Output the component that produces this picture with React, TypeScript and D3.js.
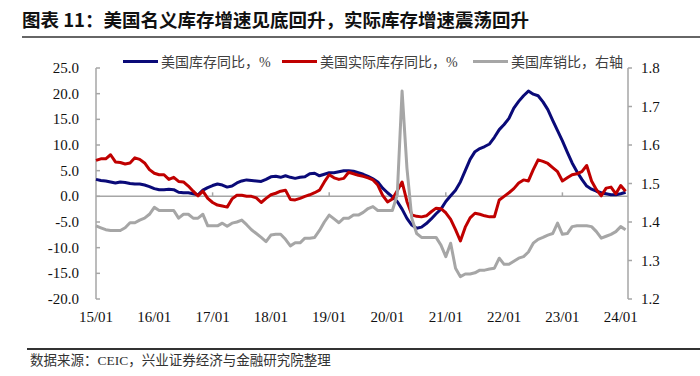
import React from "react";
import * as d3 from "d3";

const title = "图表 11：美国名义库存增速见底回升，实际库存增速震荡回升";
const source = "数据来源：CEIC，兴业证券经济与金融研究院整理";
const seriesNames = ["美国库存同比，%", "美国实际库存同比，%", "美国库销比，右轴"];
const seriesColors = ["#0A0A78", "#C00000", "#A6A6A6"];

const xLabels = ["15/01", "16/01", "17/01", "18/01", "19/01", "20/01", "21/01", "22/01", "23/01", "24/01"];
const leftTicks = [25, 20, 15, 10, 5, 0, -5, -10, -15, -20];
const rightTicks = [1.8, 1.7, 1.6, 1.5, 1.4, 1.3, 1.2];

// monthly, 2015/01 .. 2024/02
const nominalYoY = [
  3.3, 3.1, 3.0, 2.8, 2.6, 2.8, 2.7, 2.5, 2.4, 2.4, 2.2, 1.9,
  1.5, 1.3, 1.3, 1.4, 1.3, 0.8, 0.7, 0.7, 0.5, 0.3, 1.2, 1.7,
  2.1, 2.4, 2.2, 1.8, 2.0, 2.6, 3.0, 3.2, 3.1, 3.0, 2.9, 3.3,
  3.8, 3.9, 3.7, 4.0, 3.7, 3.5, 3.7, 3.8, 4.4, 4.5, 4.0, 4.3,
  4.6, 4.6, 4.8, 5.0, 5.0, 4.9, 4.6, 4.3, 3.9, 3.4, 2.8, 1.6,
  0.7, -0.1, -1.0, -2.5, -4.3, -5.6, -6.2, -6.0, -5.3, -4.4, -3.4, -2.5,
  -1.0, 0.1, 1.2, 2.8, 5.0, 7.2, 8.7, 9.3, 9.7, 10.2, 11.5, 13.0,
  14.0, 15.2, 17.2, 18.5, 19.6, 20.5, 19.9, 19.6, 18.4, 16.9, 14.8, 12.8,
  10.8, 8.6, 6.5, 4.8, 3.3, 2.0, 1.4, 1.0, 0.7, 0.5, 0.3, 0.3,
  0.5, 0.8,
];

const realYoY = [
  7.0, 7.3, 7.3, 8.1, 6.7, 6.6, 6.3, 6.5, 7.5, 7.2, 6.5, 5.2,
  4.5, 4.2, 4.2, 3.3, 3.7, 2.9, 2.8, 2.0, 1.0, 0.1, 1.0, -0.4,
  -1.2, -1.7, -1.9, -2.1, -0.5, 0.2, 0.2, 0.0, 0.0, -0.3, -1.2, -0.4,
  0.3, 0.6, 1.0, 1.2, -0.6, -0.7, -0.4, 0.0, 0.3, 0.7, 1.2, 2.8,
  4.2, 3.6, 3.3, 3.5, 4.7, 4.4, 4.1, 3.9, 3.6, 3.2, 2.2, 0.2,
  -1.1, -0.5, 1.1, 2.8, -1.0, -3.6, -3.9, -4.0, -3.8, -3.0, -2.3, -2.4,
  -3.2, -4.5, -6.5, -8.7, -6.0, -4.2, -3.3, -3.5, -3.8, -4.0, -4.0, -0.7,
  0.0, 0.7, 1.5, 2.6, 3.2, 3.0, 5.2, 7.1, 6.8, 6.4, 5.6, 4.8,
  3.0, 3.6, 4.2, 4.4, 4.8, 6.0, 3.0, 1.3, 0.1, 1.6, 1.8, 0.5,
  2.1, 1.0,
];

const invSalesRatio = [
  1.39, 1.385, 1.38, 1.378, 1.378, 1.378, 1.385, 1.398, 1.398, 1.405, 1.41, 1.42,
  1.438, 1.43, 1.43, 1.43, 1.43, 1.41, 1.42, 1.42, 1.41, 1.41, 1.42, 1.39,
  1.39, 1.39, 1.397, 1.389, 1.397, 1.4, 1.405, 1.393, 1.38, 1.37, 1.36, 1.349,
  1.366, 1.368, 1.368, 1.355, 1.338, 1.346, 1.346, 1.358, 1.358, 1.36, 1.378, 1.4,
  1.418, 1.408, 1.398, 1.41, 1.41, 1.418, 1.418, 1.425, 1.435, 1.44, 1.43, 1.43,
  1.43, 1.43, 1.47, 1.74, 1.54, 1.41, 1.37, 1.36, 1.36, 1.36, 1.36, 1.34,
  1.31, 1.345, 1.28, 1.258, 1.265, 1.265, 1.268, 1.275, 1.275, 1.278, 1.28, 1.306,
  1.29, 1.29, 1.298, 1.306, 1.31, 1.322, 1.345, 1.355, 1.36, 1.366, 1.37, 1.397,
  1.368, 1.37, 1.388, 1.39, 1.39, 1.39, 1.388, 1.375, 1.358, 1.363, 1.368, 1.375,
  1.388, 1.38,
];

const W = 700;
const H = 376;
const L = 96;
const R = 628;
const T = 68;
const B = 299;

const CJK = "'Noto Sans CJK SC', 'Noto Sans', sans-serif";
const SERIF = "'Liberation Serif', 'Noto Sans CJK SC', serif";

export default function App() {
  const n = nominalYoY.length;
  const x = d3.scaleLinear().domain([0, n - 0.5]).range([L, R]);
  const yL = d3.scaleLinear().domain([-20, 25]).range([B, T]);
  const yR = d3.scaleLinear().domain([1.2, 1.8]).range([B, T]);

  const lineL = d3.line<number>().x((_, i) => x(i)).y((d) => yL(d));
  const lineR = d3.line<number>().x((_, i) => x(i)).y((d) => yR(d));

  const axisColor = "#A6A6A6";
  const y0 = yL(0);
  const minorTicks = d3.range(24, n, 24);

  const legendX = [123, 282, 473];

  return (
    <svg
      width={W}
      height={H}
      viewBox={`0 0 ${W} ${H}`}
      style={{ position: "absolute", left: 0, top: 0, background: "#fff" }}
    >
      <rect x={0} y={0} width={W} height={H} fill="#fff" />
      {/* title */}
      <text x={22} y={27} fontFamily={CJK} fontWeight="bold" fontSize={18.5} fill="#111">
        {title}
      </text>
      <line x1={22} x2={700} y1={37} y2={37} stroke="#333" strokeWidth={1.5} />

      {/* legend */}
      {seriesNames.map((name, k) => (
        <g key={name}>
          <line
            x1={legendX[k]}
            x2={legendX[k] + 35}
            y1={61.5}
            y2={61.5}
            stroke={seriesColors[k]}
            strokeWidth={3}
          />
          <text
            x={legendX[k] + 38}
            y={66.5}
            fontFamily={SERIF}
            fontSize={14}
            fill="#404040"
          >
            {name}
          </text>
        </g>
      ))}

      {/* left axis */}
      <line x1={L} x2={L} y1={T} y2={B} stroke={axisColor} strokeWidth={1.5} />
      {leftTicks.map((v) => (
        <g key={"l" + v}>
          <line x1={L} x2={L + 4} y1={yL(v)} y2={yL(v)} stroke={axisColor} strokeWidth={1.5} />
          <text
            x={79}
            y={yL(v) + 5}
            textAnchor="end"
            fontFamily={SERIF}
            fontSize={15}
            fill="#111"
          >
            {v.toFixed(1)}
          </text>
        </g>
      ))}

      {/* right axis */}
      <line x1={R} x2={R} y1={T} y2={B} stroke={axisColor} strokeWidth={1.5} />
      {rightTicks.map((v) => (
        <g key={"r" + v}>
          <line x1={R} x2={R + 4} y1={yR(v)} y2={yR(v)} stroke={axisColor} strokeWidth={1.5} />
          <text x={641} y={yR(v) + 5} fontFamily={SERIF} fontSize={15} fill="#111">
            {v.toFixed(1)}
          </text>
        </g>
      ))}

      {/* zero axis */}
      <line x1={L} x2={R} y1={y0} y2={y0} stroke={axisColor} strokeWidth={1.5} />
      {minorTicks.map((i) => (
        <line key={"t" + i} x1={x(i)} x2={x(i)} y1={y0} y2={y0 - 4} stroke={axisColor} strokeWidth={1.5} />
      ))}

      {/* x labels */}
      {xLabels.map((lab, k) => (
        <text
          key={lab}
          x={x(k * 12)}
          y={322}
          textAnchor="middle"
          fontFamily={SERIF}
          fontSize={15}
          fill="#111"
        >
          {lab}
        </text>
      ))}

      {/* series */}
      <path d={lineL(nominalYoY) || ""} fill="none" stroke={seriesColors[0]} strokeWidth={3} strokeLinejoin="round" />
      <path d={lineL(realYoY) || ""} fill="none" stroke={seriesColors[1]} strokeWidth={3} strokeLinejoin="round" />
      <path d={lineR(invSalesRatio) || ""} fill="none" stroke={seriesColors[2]} strokeWidth={3} strokeLinejoin="round" />

      {/* footer */}
      <line x1={27} x2={700} y1={349} y2={349} stroke="#333" strokeWidth={2} />
      <text x={30} y={365} fontFamily={SERIF} fontSize={13.5} fill="#333">
        {source}
      </text>
    </svg>
  );
}
